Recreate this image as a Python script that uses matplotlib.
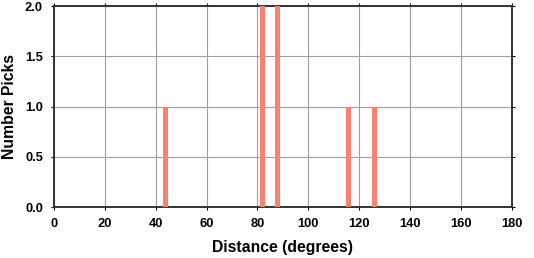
import matplotlib
matplotlib.use("Agg")
import matplotlib.pyplot as plt

distances = [44, 82, 88, 116, 126]
counts = [1, 2, 2, 1, 1]
bar_width = 2
xticks = list(range(0, 181, 20))
yticks = [0.0, 0.5, 1.0, 1.5, 2.0]

plt.rcParams['font.family'] = ['Liberation Sans', 'DejaVu Sans']
plt.rcParams['font.weight'] = 'bold'

fig = plt.figure(figsize=(5.34, 2.58), dpi=100)
ax = fig.add_axes([0.1011, 0.1965, 0.8571, 0.7802])
ax.bar(distances, counts, width=bar_width, color='#fa8072', edgecolor='none', zorder=3)
ax.set_xlim(0, 180)
ax.set_ylim(0, 2.0)
ax.set_xticks(xticks)
ax.set_yticks(yticks)
ax.set_yticklabels([f"{v:.1f}" for v in yticks])
ax.grid(True, color='#a0a0a0', linewidth=0.8, zorder=0)
for s in ax.spines.values():
    s.set_linewidth(1.4)
    s.set_color('#333333')
ax.tick_params(axis='both', which='both', direction='out', length=2.5, width=0.8,
               labelsize=9.3, top=True, right=True)
ax.tick_params(axis='x', pad=5.5)
ax.tick_params(axis='y', pad=5.5)
for lab in ax.get_xticklabels() + ax.get_yticklabels():
    lab.set_fontweight('bold')
ax.set_xlabel('Distance (degrees)', fontsize=11.3, fontweight='bold', labelpad=7)
ax.set_ylabel('Number Picks', fontsize=11.3, fontweight='bold', labelpad=6)
fig.savefig('out.png', dpi=100)
